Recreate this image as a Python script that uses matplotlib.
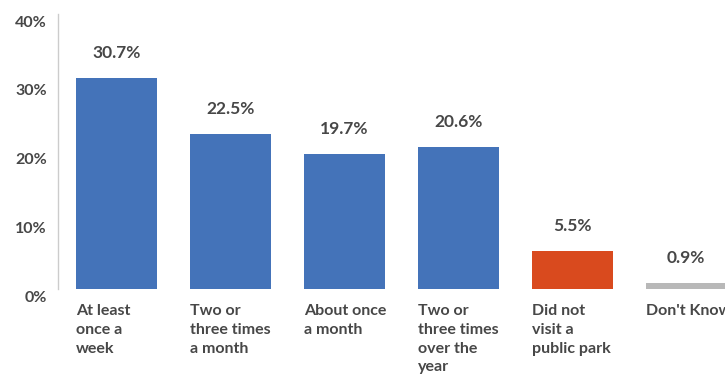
import matplotlib.pyplot as plt
import matplotlib.transforms as mtransforms

# Data
categories = ['At least\nonce a\nweek', 'Two or\nthree times\na month', 'About once\na month',
              'Two or\nthree times\nover the\nyear', 'Did not\nvisit a\npublic park', "Don't Know"]
values = [30.7, 22.5, 19.7, 20.6, 5.5, 0.9]
value_labels = ['30.7%', '22.5%', '19.7%', '20.6%', '5.5%', '0.9%']
colors = ['#4473b9', '#4473b9', '#4473b9', '#4473b9', '#d94a1e', '#b8b8b8']
yticks = [0, 10, 20, 30, 40]
ytick_labels = ['0%', '10%', '20%', '30%', '40%']

plt.rcParams['font.family'] = ['Lato', 'DejaVu Sans']
text_color = '#474747'

fig = plt.figure(figsize=(7.25, 3.75), dpi=100)
ax = fig.add_axes([58 / 725, 86 / 375, 1 - 58 / 725, 275 / 375])

bar_w = 0.71
x = list(range(len(values)))
ax.bar(x, values, width=bar_w, color=colors, zorder=2)

ax.set_xlim(-0.513, 5.34)
ax.set_ylim(0, 40)

# Value labels above bars
for xi, v, lab in zip(x, values, value_labels):
    ax.annotate(lab, xy=(xi, v), xytext=(0, 18), textcoords='offset points',
                ha='center', va='center', fontsize=12.5, fontweight='bold',
                color=text_color)

# Category labels, left aligned to the bar edge (last one runs off the edge, as in the original)
for xi, cat in zip(x, categories):
    ax.annotate(cat, xy=(xi - bar_w / 2, 0), xycoords=('data', 'axes fraction'),
                xytext=(0, -11), textcoords='offset points', ha='left', va='top',
                fontsize=11.5, fontweight='bold', color=text_color, linespacing=1.42,
                annotation_clip=False)

ax.set_xticks([])
ax.set_yticks(yticks)
ax.set_yticklabels(ytick_labels, fontsize=11.5, fontweight='bold', color=text_color)
ax.tick_params(axis='y', length=0, pad=8)
offset = mtransforms.ScaledTranslation(0, -7 / 100, fig.dpi_scale_trans)
for lbl in ax.get_yticklabels():
    lbl.set_transform(lbl.get_transform() + offset)

for side in ['top', 'right', 'bottom']:
    ax.spines[side].set_visible(False)
ax.spines['left'].set_color('#cccccc')
ax.spines['left'].set_linewidth(1)

fig.savefig('out.png', dpi=100)
